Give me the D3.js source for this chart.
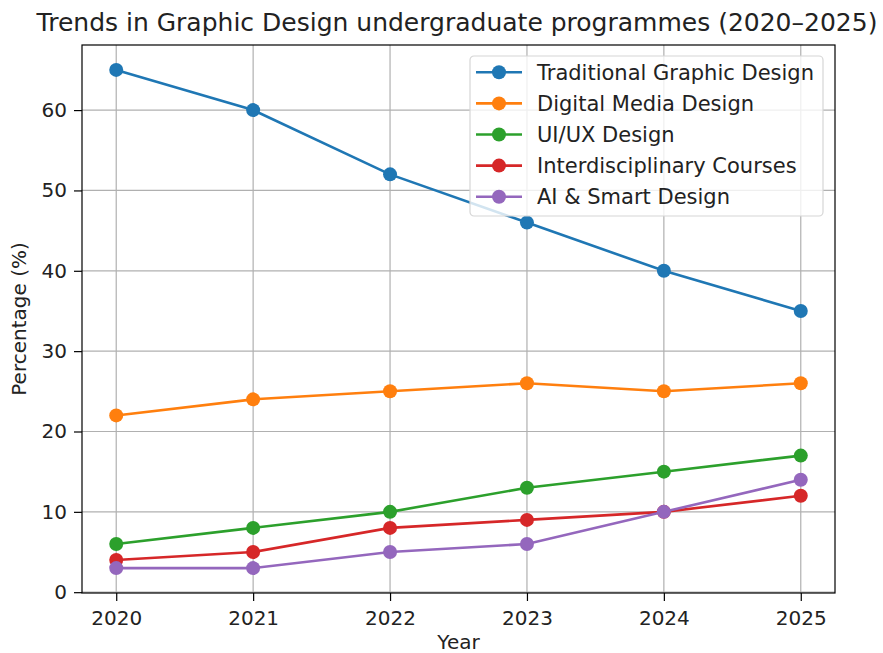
<!DOCTYPE html>
<html>
<head>
<meta charset="utf-8">
<script src="https://cdn.jsdelivr.net/npm/d3@7"></script>
<style>
  body { margin: 0; background: #fff; }
  text { font-family: "DejaVu Sans", sans-serif; fill: #222; }
</style>
</head>
<body>
<div id="chart"></div>
<script>
const years = [2020, 2021, 2022, 2023, 2024, 2025];
const seriesNames = [
  'Traditional Graphic Design',
  'Digital Media Design',
  'UI/UX Design',
  'Interdisciplinary Courses',
  'AI & Smart Design',
];
const traditional = [65, 60, 52, 46, 40, 35];
const digitalMedia = [22, 24, 25, 26, 25, 26];
const uiux = [6, 8, 10, 13, 15, 17];
const interdisciplinary = [4, 5, 8, 9, 10, 12];
const aiSmart = [3, 3, 5, 6, 10, 14];
const yTicks = [0, 10, 20, 30, 40, 50, 60];
const colors = ['#1f77b4', '#ff7f0e', '#2ca02c', '#d62728', '#9467bd'];

const series = [traditional, digitalMedia, uiux, interdisciplinary, aiSmart].map((vals, i) => ({
  name: seriesNames[i],
  color: colors[i],
  values: vals.map((v, j) => ({ year: years[j], value: v })),
}));

const W = 883, H = 653;
const margin = { top: 45, right: 48, bottom: 60, left: 82 };
const width = W - margin.left - margin.right;
const height = H - margin.top - margin.bottom;

const svg = d3.select('#chart').append('svg')
  .attr('width', W).attr('height', H);

const g = svg.append('g')
  .attr('transform', 'translate(' + margin.left + ',' + margin.top + ')');

const x = d3.scaleLinear().domain([2019.75, 2025.25]).range([0, width]);
const y = d3.scaleLinear().domain([-0.1, 68.1]).range([height, 0]);

// grid
g.append('g').selectAll('line').data(years).join('line')
  .attr('x1', d => x(d)).attr('x2', d => x(d))
  .attr('y1', 0).attr('y2', height)
  .attr('stroke', '#b0b0b0').attr('stroke-width', 1.2);
g.append('g').selectAll('line').data(yTicks).join('line')
  .attr('x1', 0).attr('x2', width)
  .attr('y1', d => y(d)).attr('y2', d => y(d))
  .attr('stroke', '#b0b0b0').attr('stroke-width', 1.2);

// axes
const xAxis = g.append('g')
  .attr('transform', 'translate(0,' + height + ')')
  .call(d3.axisBottom(x).tickValues(years).tickFormat(d3.format('d')).tickSize(8).tickPadding(10));
const yAxis = g.append('g')
  .call(d3.axisLeft(y).tickValues(yTicks).tickSize(8).tickPadding(7));
[xAxis, yAxis].forEach(a => {
  a.select('.domain').remove();
  a.selectAll('line').attr('stroke', '#000').attr('stroke-width', 1.2);
  a.selectAll('text').style('font-size', '20px').style('font-family', '"DejaVu Sans", sans-serif').attr('fill', '#222');
});

// frame
g.append('rect')
  .attr('width', width).attr('height', height)
  .attr('fill', 'none').attr('stroke', '#000').attr('stroke-width', 1.2);

// lines
const line = d3.line().x(d => x(d.year)).y(d => y(d.value));
const sg = g.append('g').selectAll('g').data(series).join('g');
sg.append('path')
  .attr('d', d => line(d.values))
  .attr('fill', 'none')
  .attr('stroke', d => d.color)
  .attr('stroke-width', 2.6);
sg.selectAll('circle').data(d => d.values.map(v => ({ ...v, color: d.color }))).join('circle')
  .attr('cx', d => x(d.year)).attr('cy', d => y(d.value))
  .attr('r', 7).attr('fill', d => d.color);

// title and labels
svg.append('text')
  .attr('x', 457).attr('y', 31)
  .attr('text-anchor', 'middle')
  .style('font-size', '25px')
  .text('Trends in Graphic Design undergraduate programmes (2020–2025)');
svg.append('text')
  .attr('x', margin.left + width / 2).attr('y', 649)
  .attr('text-anchor', 'middle')
  .style('font-size', '20px')
  .text('Year');
svg.append('text')
  .attr('transform', 'translate(26,' + (margin.top + height / 2) + ') rotate(-90)')
  .attr('text-anchor', 'middle')
  .style('font-size', '20px')
  .text('Percentage (%)');

// legend
const legend = g.append('g').attr('transform', 'translate(' + (470 - margin.left) + ',' + (56 - margin.top) + ')');
legend.append('rect')
  .attr('width', 353).attr('height', 160).attr('rx', 4)
  .attr('fill', 'rgba(255,255,255,0.8)')
  .attr('stroke', '#d6d6d6').attr('stroke-width', 1.2);
const item = legend.selectAll('g.item').data(series).join('g')
  .attr('class', 'item')
  .attr('transform', (d, i) => 'translate(0,' + (16.3 + i * 31.1) + ')');
item.append('line')
  .attr('x1', 6).attr('x2', 52)
  .attr('stroke', d => d.color).attr('stroke-width', 2.6);
item.append('circle')
  .attr('cx', 29).attr('r', 7).attr('fill', d => d.color);
item.append('text')
  .attr('x', 67).attr('dy', '0.35em')
  .style('font-size', '21px')
  .text(d => d.name);
</script>
</body>
</html>
